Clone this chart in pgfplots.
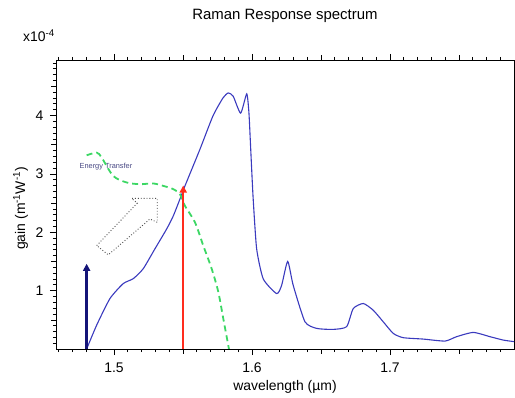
\documentclass[border=0pt]{standalone}
\usepackage{fontspec}
\setmainfont{Liberation Sans}
\usepackage{pgfplots}
\pgfplotsset{compat=1.18}
\usetikzlibrary{arrows.meta}
\definecolor{curveblue}{RGB}{58,58,190}
\definecolor{navyarrow}{RGB}{20,20,120}
\definecolor{redarrow}{RGB}{255,45,30}
\definecolor{greenline}{RGB}{60,215,100}
\definecolor{etext}{RGB}{70,70,130}
\begin{document}
\begin{tikzpicture}
\begin{axis}[
  scale only axis,
  width=458bp, height=289bp,
  xmin=1.458, xmax=1.7899,
  ymin=0, ymax=4.95,
  xtick={1.5,1.6,1.7},
  xticklabels={1.5,1.6,1.7},
  ytick={1,2,3,4},
  minor xtick={1.46,1.47,1.48,1.49,1.51,1.52,1.53,1.54,1.56,1.57,1.58,1.59,1.61,1.62,1.63,1.64,1.66,1.67,1.68,1.69,1.71,1.72,1.73,1.74,1.76,1.77,1.78,1.79},
  minor ytick={0.1,0.2,0.3,0.4,0.6,0.7,0.8,0.9,1.1,1.2,1.3,1.4,1.6,1.7,1.8,1.9,2.1,2.2,2.3,2.4,2.6,2.7,2.8,2.9,3.1,3.2,3.3,3.4,3.6,3.7,3.8,3.9,4.1,4.2,4.3,4.4,4.6,4.7,4.8,4.9},
  extra x ticks={1.55,1.65,1.75},
  extra x tick labels={},
  extra x tick style={major tick length=4.5bp},
  extra y ticks={0.5,1.5,2.5,3.5,4.5},
  extra y tick labels={},
  extra y tick style={major tick length=4.5bp},
  tick align=outside,
  xtick pos=both,
  ytick pos=left,
  major tick length=6bp,
  minor tick length=3bp,
  tick style={black, line width=0.6bp},
  axis line style={black, line width=0.8bp},
  /pgf/number format/assume math mode=true,
  tick label style={font=\fontsize{14}{16}\selectfont},
  xticklabel style={anchor=base, yshift=-17bp},
  yticklabel style={anchor=east, xshift=-3bp},
  clip=true,
]
\addplot[curveblue, line width=1.1bp, smooth, tension=0.35] coordinates {
(1.4802,0.0) (1.4875,0.41) (1.4971,0.864) (1.5067,1.12) (1.514,1.205)
(1.5212,1.375) (1.5297,1.716) (1.5382,2.056) (1.5430,2.28) (1.5478,2.567)
(1.5514,2.79) (1.5623,3.42) (1.5717,3.99) (1.5790,4.30) (1.5828,4.385) (1.5864,4.33)
(1.5918,4.04) (1.5962,4.37) (1.5978,4.05) (1.5990,3.475) (1.5998,3.078)
(1.6009,2.567) (1.6034,1.716) (1.6082,1.20) (1.6179,0.949) (1.6215,1.09)
(1.6259,1.50) (1.6299,1.09) (1.6384,0.467) (1.6469,0.353) (1.6589,0.336)
(1.6686,0.382) (1.6734,0.693) (1.6807,0.779) (1.6879,0.664) (1.6951,0.467)
(1.7024,0.267) (1.7096,0.194) (1.7241,0.170) (1.7399,0.136) (1.7483,0.211)
(1.7604,0.284) (1.7725,0.211) (1.7821,0.153) (1.7900,0.126)
};
\node[etext, font=\fontsize{7.4}{8}\selectfont] at (axis cs:1.4942,3.12) {Energy Transfer};
\addplot[greenline, line width=1.8bp, dash pattern=on 6bp off 4bp, smooth, tension=0.5] coordinates {
(1.4802,3.317) (1.4875,3.363) (1.4911,3.278) (1.4995,2.964) (1.5092,2.852)
(1.5188,2.823) (1.5285,2.835) (1.5357,2.794) (1.5430,2.738) (1.5478,2.652)
(1.5514,2.453) (1.5587,2.170) (1.5647,1.772) (1.5708,1.375) (1.5756,0.978)
(1.5792,0.523) (1.5828,0.068) (1.5833,0.0)
};
\addplot[navyarrow, line width=2.4bp, -{Triangle[length=7bp,width=7bp]}] coordinates {(1.4802,0) (1.4802,1.46)};
\addplot[redarrow, line width=2.4bp, -{Triangle[length=7bp,width=7bp]}] coordinates {(1.5502,0) (1.5502,2.80)};
\draw[black!70, dotted, line width=0.9bp] (axis cs:1.4875,1.772) -- (axis cs:1.5169,2.499) -- (axis cs:1.5128,2.579) -- (axis cs:1.5314,2.579) -- (axis cs:1.5314,2.170) -- (axis cs:1.5261,2.227) -- (axis cs:1.4959,1.613) -- cycle;
\coordinate (ll) at (rel axis cs:0,0);
\coordinate (ur) at (rel axis cs:1,1);
\coordinate (tc) at (rel axis cs:0.5,1);
\coordinate (bc) at (rel axis cs:0.5,0);
\coordinate (ul) at (rel axis cs:0,1);
\coordinate (lc) at (rel axis cs:0,0.5);
\end{axis}
\node[anchor=base, font=\fontsize{15}{17}\selectfont] at ([yshift=40bp]tc) {Raman Response spectrum};
\node[anchor=base east, inner sep=0pt, font=\fontsize{14}{16}\selectfont] at ([shift={(-1bp,18bp)}]ul) {x10\textsuperscript{-4}};
\node[anchor=base, inner sep=0pt, font=\fontsize{14}{16}\selectfont] at ([yshift=-41bp]bc) {wavelength (µm)};
\node[anchor=base, inner sep=0pt, rotate=90, font=\fontsize{14}{16}\selectfont] at ([xshift=-31bp, yshift=-4bp]lc) {gain (m\textsuperscript{-1}W\textsuperscript{-1})};
\pgfresetboundingbox
\path ([shift={(-56bp,-49bp)}]ll) rectangle ([shift={(1bp,60bp)}]ur);
\end{tikzpicture}
\end{document}
